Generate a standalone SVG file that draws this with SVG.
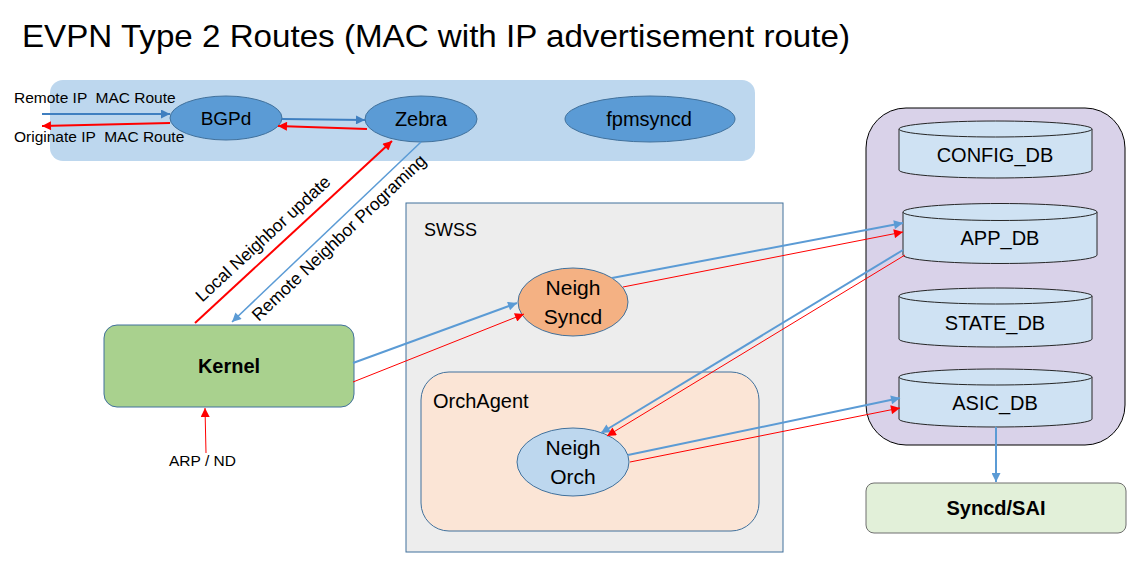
<svg xmlns="http://www.w3.org/2000/svg" width="1145" height="566" viewBox="0 0 1145 566">
<style>
text{font-family:"Liberation Sans",Arial,sans-serif;fill:#000}
.t15{font-size:15.5px}
.t16{font-size:17.5px}
.t20{font-size:20px}
.b{font-weight:bold}
.c{text-anchor:middle}
.pre{white-space:pre}
.ell{fill:#5b9bd5;stroke:#41719c;stroke-width:1}
.cyl{fill:#cfe2f3;stroke:#262626;stroke-width:1}
.blue{stroke:#5b9bd5;stroke-width:2;fill:none}
.blueT{stroke:#3f7fc0;stroke-width:1.8;fill:none}
.red{stroke:#ff0000;stroke-width:1;fill:none}
.redT{stroke:#ff0000;stroke-width:2;fill:none}
</style>
<defs>
<marker id="ab" viewBox="0 0 10 10" refX="10" refY="5" markerWidth="11" markerHeight="9" markerUnits="userSpaceOnUse" orient="auto"><path d="M0,0 L10,5 L0,10 z" fill="#5b9bd5"/></marker>
<marker id="abT" viewBox="0 0 10 10" refX="10" refY="5" markerWidth="11" markerHeight="9" markerUnits="userSpaceOnUse" orient="auto"><path d="M0,0 L10,5 L0,10 z" fill="#3f7fc0"/></marker>
<marker id="ar" viewBox="0 0 10 10" refX="10" refY="5" markerWidth="11" markerHeight="9" markerUnits="userSpaceOnUse" orient="auto"><path d="M0,0 L10,5 L0,10 z" fill="#ff0000"/></marker>
</defs>
<rect width="1145" height="566" fill="#ffffff"/>
<text id="title" x="22" y="47" style="font-size:32px" textLength="828" lengthAdjust="spacingAndGlyphs">EVPN Type 2 Routes (MAC with IP advertisement route)</text>

<g id="control-plane">
<rect x="50" y="80" width="705" height="81" rx="13" fill="#bdd7ee"/>
</g>
<g id="bgpd"><ellipse class="ell" cx="226" cy="118" rx="56" ry="22"/><text class="t20 c" x="226" y="125" style="font-size:19px">BGPd</text></g>
<g id="zebra"><ellipse class="ell" cx="421" cy="119" rx="56" ry="23"/><text class="t20 c" x="421" y="126">Zebra</text></g>
<g id="fpmsyncd"><ellipse class="ell" cx="650" cy="119" rx="85" ry="23"/><text class="t20 c" x="649" y="126">fpmsyncd</text></g>
<g id="labels-bgp">
<text class="t15 pre" x="14" y="103">Remote IP  MAC Route</text>
<text class="t15 pre" x="14" y="142">Originate IP  MAC Route</text>
</g>

<g id="kernel"><rect x="104" y="325" width="250" height="82" rx="13" fill="#a9d18e" stroke="#41719c" stroke-width="1"/><text class="t20 b c" x="229" y="373">Kernel</text></g>
<g id="arp"><text class="t15" x="169" y="466">ARP / ND</text></g>

<g id="swss"><rect x="406" y="203" width="377" height="349" fill="#ededed" stroke="#41719c" stroke-width="1"/><text x="424" y="236" style="font-size:18px">SWSS</text></g>
<g id="neighsyncd"><ellipse cx="573" cy="302" rx="55" ry="34" fill="#f4b183" stroke="#41719c" stroke-width="1"/><text class="c" x="573" y="295" style="font-size:21px">Neigh</text><text class="c" x="573" y="324" style="font-size:21px">Syncd</text></g>
<g id="orchagent"><rect x="421" y="372" width="338" height="159" rx="28" fill="#fbe5d6" stroke="#41719c" stroke-width="1"/><text x="433" y="408" style="font-size:20px">OrchAgent</text></g>
<g id="neighorch"><ellipse cx="573" cy="462" rx="56" ry="34" fill="#bdd7ee" stroke="#41719c" stroke-width="1"/><text class="c" x="573" y="455" style="font-size:21px">Neigh</text><text class="c" x="573" y="484" style="font-size:21px">Orch</text></g>

<g id="redis"><rect x="866" y="108" width="259" height="337" rx="40" fill="#d9d2e9" stroke="#000" stroke-width="1"/></g>
<g id="config-db"><path class="cyl" d="M899,129 A96.5,8 0 0 1 1092,129 V170 A96.5,8 0 0 1 899,170 Z"/><path class="cyl" d="M899,129 A96.5,8 0 0 0 1092,129" fill="none"/><text class="t20 c" x="995" y="162">CONFIG_DB</text></g>
<g id="app-db"><path class="cyl" d="M903,212 A97,8.5 0 0 1 1097,212 V255 A97,8.5 0 0 1 903,255 Z"/><path class="cyl" d="M903,212 A97,8.5 0 0 0 1097,212" fill="none"/><text class="t20 c" x="1000" y="245">APP_DB</text></g>
<g id="state-db"><path class="cyl" d="M899,296 A96.5,8 0 0 1 1092,296 V339 A96.5,8 0 0 1 899,339 Z"/><path class="cyl" d="M899,296 A96.5,8 0 0 0 1092,296" fill="none"/><text class="t20 c" x="995" y="330">STATE_DB</text></g>
<g id="asic-db"><path class="cyl" d="M899,377 A96.5,8 0 0 1 1092,377 V419 A96.5,8 0 0 1 899,419 Z"/><path class="cyl" d="M899,377 A96.5,8 0 0 0 1092,377" fill="none"/><text class="t20 c" x="995" y="410">ASIC_DB</text></g>
<g id="syncd-sai"><rect x="866" y="483" width="260" height="50" rx="8" fill="#e2f0d9" stroke="#6f6f6f" stroke-width="1"/><text class="t20 b c" x="996" y="515">Syncd/SAI</text></g>

<g id="connectors">
<line class="blueT" x1="42" y1="114" x2="170" y2="114" marker-end="url(#abT)"/>
<line class="redT" x1="170" y1="123" x2="42" y2="126" marker-end="url(#ar)"/>
<line class="blueT" x1="282" y1="119" x2="365" y2="120" marker-end="url(#abT)"/>
<line class="redT" x1="367" y1="129" x2="278" y2="126" marker-end="url(#ar)"/>
<line class="redT" x1="195" y1="323" x2="392" y2="141" marker-end="url(#ar)"/>
<line class="blue" x1="421" y1="142" x2="232" y2="322" style="stroke-width:1.5" marker-end="url(#ab)"/>
<line class="red" x1="206" y1="453" x2="205" y2="408" marker-end="url(#ar)"/>
<line class="blue" x1="353" y1="363" x2="517" y2="303" marker-end="url(#ab)"/>
<line class="red" x1="353" y1="382" x2="524" y2="314" marker-end="url(#ar)"/>
<line class="blue" x1="612" y1="278" x2="903" y2="223" marker-end="url(#ab)"/>
<line class="red" x1="623" y1="287" x2="903" y2="232" marker-end="url(#ar)"/>
<line class="blue" x1="903" y1="250" x2="601" y2="433" marker-end="url(#ab)"/>
<line class="red" x1="905" y1="255" x2="607" y2="436" marker-end="url(#ar)"/>
<line class="blue" x1="628" y1="455" x2="900" y2="398" marker-end="url(#ab)"/>
<line class="red" x1="630" y1="462" x2="900" y2="408" marker-end="url(#ar)"/>
<line class="blue" x1="996" y1="427" x2="996" y2="482" marker-end="url(#ab)"/>
<text class="t16 c" transform="translate(267,243) rotate(-42.7)">Local Neighbor update</text>
<text class="t16 c" transform="translate(343,242) rotate(-43.5)">Remote Neighbor Programing</text>
</g>
</svg>
